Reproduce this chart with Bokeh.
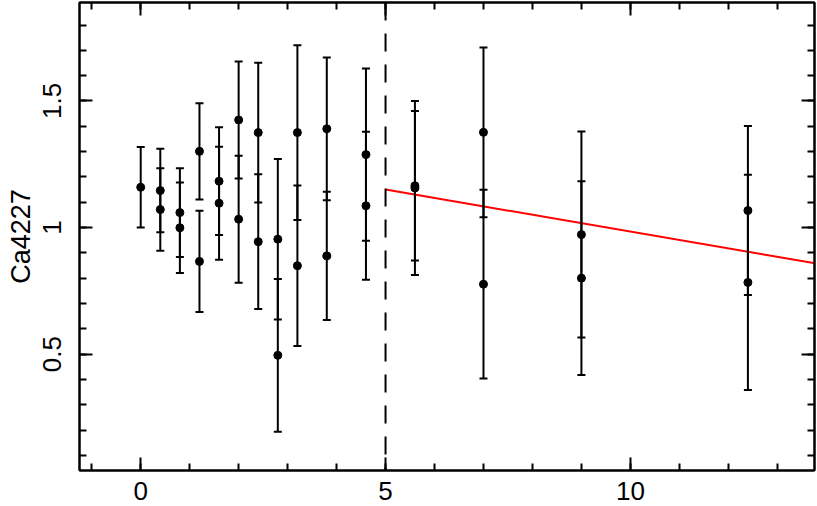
from bokeh.plotting import figure
from bokeh.models import (ColumnDataSource, Whisker, TeeHead, Span, LinearAxis,
                          SingleIntervalTicker, CustomJSTickFormatter, Range1d)
from bokeh.embed import file_html
from bokeh.resources import INLINE

# ---- data ----
radius = [0.0, 0.4, 0.4, 0.8, 0.8, 1.2, 1.2, 1.6, 1.6, 2.0, 2.0, 2.4, 2.4,
          2.8, 2.8, 3.2, 3.2, 3.8, 3.8, 4.6, 4.6,
          5.6, 5.6, 7.0, 7.0, 9.0, 9.0, 12.4, 12.4]
ca4227 = [1.159, 1.146, 1.071, 1.059, 0.999, 1.301, 0.866, 1.183, 1.096,
          1.425, 1.033, 1.375, 0.944, 0.954, 0.495, 1.375, 0.849, 1.390, 0.888,
          1.288, 1.086,
          1.165, 1.156, 1.376, 0.776, 0.972, 0.800, 1.067, 0.783]
ca4227_err = [0.159, 0.165, 0.163, 0.175, 0.179, 0.190, 0.200, 0.213, 0.223,
              0.231, 0.251, 0.276, 0.266, 0.317, 0.302, 0.345, 0.317, 0.282, 0.253,
              0.340, 0.292,
              0.295, 0.344, 0.335, 0.373, 0.407, 0.383, 0.334, 0.425]
boundary_x = 5.0
fit_x = [5.0, 14.0]
fit_y = [1.150, 0.851]

x_range = (-1.25, 13.76)
y_range = (0.04, 1.889)

lower = [v - e for v, e in zip(ca4227, ca4227_err)]
upper = [v + e for v, e in zip(ca4227, ca4227_err)]
src = ColumnDataSource(dict(x=radius, y=ca4227, lo=lower, hi=upper))

FONT = "Liberation Sans"
FS = "26px"

p = figure(width=816, height=505, output_backend="svg", toolbar_location=None,
           x_range=Range1d(*x_range), y_range=Range1d(*y_range),
           x_axis_location=None, y_axis_location=None,
           min_border_left=79, min_border_right=2, min_border_top=2,
           min_border_bottom=35)
p.grid.visible = False
p.outline_line_color = "black"
p.outline_line_width = 2
p.background_fill_color = "white"
p.border_fill_color = "white"

def style_axis(ax, labels=True):
    ax.major_tick_in = 13
    ax.major_tick_out = 0
    ax.minor_tick_in = 7
    ax.minor_tick_out = 0
    ax.axis_line_width = 2
    ax.major_tick_line_width = 2
    ax.minor_tick_line_width = 2
    ax.axis_line_color = "black"
    ax.major_tick_line_color = "black"
    ax.minor_tick_line_color = "black"
    ax.major_label_text_font = FONT
    ax.major_label_text_font_size = FS
    ax.major_label_text_color = "black"
    if not labels:
        ax.major_label_standoff = 0

fmt = CustomJSTickFormatter(code="return String(Math.round(tick*10)/10);")
blank = CustomJSTickFormatter(code="return '';")

xb = LinearAxis(ticker=SingleIntervalTicker(interval=5, num_minor_ticks=5), formatter=fmt)
style_axis(xb)
xb.major_label_standoff = 11
p.add_layout(xb, "below")

xt = LinearAxis(ticker=SingleIntervalTicker(interval=5, num_minor_ticks=5), formatter=blank)
style_axis(xt, labels=False)
p.add_layout(xt, "above")

yl = LinearAxis(ticker=SingleIntervalTicker(interval=0.5, num_minor_ticks=5), formatter=fmt)
style_axis(yl)
yl.major_label_orientation = "vertical"
yl.major_label_standoff = 18
yl.axis_label = "Ca4227"
yl.axis_label_text_font = FONT
yl.axis_label_text_font_size = "27px"
yl.axis_label_text_font_style = "normal"
yl.axis_label_text_color = "black"
yl.axis_label_standoff = 5
p.add_layout(yl, "left")

yr = LinearAxis(ticker=SingleIntervalTicker(interval=0.5, num_minor_ticks=5), formatter=blank)
style_axis(yr, labels=False)
p.add_layout(yr, "right")

# dashed boundary
p.add_layout(Span(location=boundary_x, dimension="height", line_color="black",
                  line_width=2, line_dash="18 13"))

# fit line
p.line(fit_x, fit_y, line_color="#ff0000", line_width=2)

# error bars
wh = Whisker(source=src, base="x", lower="lo", upper="hi", dimension="height",
             line_color="black", line_width=2,
             lower_head=TeeHead(size=8, line_width=2, line_color="black"),
             upper_head=TeeHead(size=8, line_width=2, line_color="black"),
             level="glyph")
p.add_layout(wh)

p.scatter("x", "y", source=src, size=8, color="black")

open("out.html", "w").write(file_html(p, INLINE))
